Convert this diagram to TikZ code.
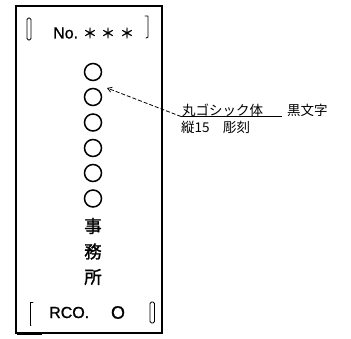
\documentclass[tikz,border=0pt]{standalone}
\usepackage{fontspec}
\setmainfont{Liberation Sans}
\newfontfamily\latinb[FakeBold=1]{Liberation Sans}
\newfontfamily\cjk{Noto Sans CJK JP}
\newfontfamily\cjkb[FakeBold=1.5]{Noto Sans CJK JP}
\usetikzlibrary{arrows.meta}
\tikzset{
  frame/.style={line width=1.2pt, black},
  scanmark/.style={line width=2.3pt, black},
  bracket/.style={line width=0.9pt, black, line cap=round, line join=round},
  seal/.style={circle, draw, line width=1.5pt, minimum size=17pt, inner sep=0pt},
  kanji/.style={inner sep=0pt, font=\cjkb\fontsize{17.5}{18}\selectfont},
  latin/.style={inner sep=0pt, font=\latinb\fontsize{16}{18}\selectfont},
  star/.style={inner sep=0pt, font=\cjkb\fontsize{14}{16}\selectfont},
  note/.style={inner sep=0pt, anchor=west, font=\cjk\fontsize{13.5}{15}\selectfont},
  leader/.style={line width=0.8pt, dash pattern=on 4pt off 2pt, -{Straight Barb[length=4pt,width=5pt]}},
  uline/.style={line width=0.8pt}
}
\begin{document}
\begin{tikzpicture}[x=1pt,y=-1pt]
\useasboundingbox (0,0) rectangle (351,338);
% plate outline
\draw[frame] (16,6) rectangle (162,333);
\draw[scanmark] (16,20) -- (16,37);
\draw[scanmark] (162,137) -- (162,282);
\draw[scanmark] (17,334) -- (42,334);
\draw[line width=1.8pt] (146,6) -- (162,6);
% corner brackets
\draw[bracket, rounded corners=1.5pt] (27,18) rectangle (31,40);
\draw[bracket] (145,16) -- (148,16) -- (148,37) -- (146,38);
\draw[bracket] (33,302) -- (30,302) -- (30,325) -- (31,325);
\draw[bracket, rounded corners=1.5pt] (150,302) rectangle (154.5,323);
% top number
\node[latin, anchor=west] (no) at (53,33) {No.};
\node[star] (s1) at (90,33) {＊};
\node[star] (s2) at (108,33) {＊};
\node[star] (s3) at (127,33) {＊};
% column of circles
\node[seal] (c1) at (93,72) {};
\node[seal] (c2) at (93,97) {};
\node[seal] (c3) at (93,122.5) {};
\node[seal] (c4) at (93,148) {};
\node[seal] (c5) at (93,173) {};
\node[seal] (c6) at (93,198.5) {};
\node[kanji] (k1) at (93,226) {事};
\node[kanji] (k2) at (93,251.5) {務};
\node[kanji] (k3) at (93,277) {所};
% bottom code
\node[latin, anchor=west] (rco) at (49,312.5) {RCO.};
\node[latin, font=\latinb\fontsize{18}{20}\selectfont] (o) at (118,312.5) {O};
% annotation
\node[note] (n1) at (182,110.5) {丸ゴシック体};
\node[note] (n2) at (287,110.5) {黒文字};
\node[note] (n3) at (181,127) {縦15};
\node[note] (n4) at (223,127) {彫刻};
\coordinate (ulw) at (181,116.5);
\coordinate (ule) at (282,116.5);
\coordinate (tip) at (107,88);
\draw[uline] (ulw) -- (ule);
\draw[leader] (ulw) -- (tip);
\end{tikzpicture}
\end{document}
